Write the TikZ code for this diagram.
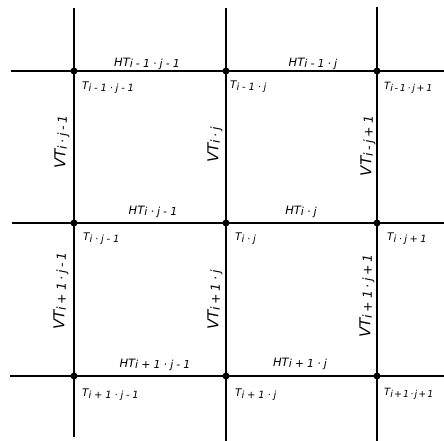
\documentclass[tikz,border=0pt]{standalone}
\usepackage{fontspec}
\newfontfamily\lbf{DejaVu Sans}
% #1 main size, #2 subscript size, #3 letter spacing of subscript, #4 main text, #5 subscript text
\newcommand\lb[5]{{\lbf\itshape\fontsize{#1}{#1}\selectfont #4\raisebox{-1.6pt}{\fontsize{#2}{#2}\selectfont\addfontfeatures{LetterSpace=#3}#5}}}
\begin{document}
\begin{tikzpicture}[x=1pt,y=-1pt,
  gridline/.style={line width=1.6pt, line cap=butt},
  dot/.style={circle, fill=black, inner sep=0pt, minimum size=7pt},
  hl/.style={inner sep=0pt, anchor=center},
  tl/.style={inner sep=0pt, anchor=west},
  vl/.style={inner sep=0pt, anchor=center, rotate=90}]
\useasboundingbox (0,0) rectangle (444,441);
% grid line ends
\coordinate (t1) at (74,8);  \coordinate (b1) at (74,437);
\coordinate (t2) at (226,8); \coordinate (b2) at (226,441);
\coordinate (t3) at (377,7); \coordinate (b3) at (377,441);
\coordinate (l1) at (11,71);  \coordinate (r1) at (444,71);
\coordinate (l2) at (12,223); \coordinate (r2) at (444,223);
\coordinate (l3) at (10,376); \coordinate (r3) at (444,376);
\draw[gridline] (t1) -- (b1);
\draw[gridline] (t2) -- (b2);
\draw[gridline] (t3) -- (b3);
\draw[gridline] (l1) -- (r1);
\draw[gridline] (l2) -- (r2);
\draw[gridline] (l3) -- (r3);
% nodes
\node[dot] (n11) at (74,71) {};
\node[dot] (n12) at (226,71) {};
\node[dot] (n13) at (377,71) {};
\node[dot] (n21) at (74,223) {};
\node[dot] (n22) at (226,223) {};
\node[dot] (n23) at (377,223) {};
\node[dot] (n31) at (74,376) {};
\node[dot] (n32) at (226,376) {};
\node[dot] (n33) at (377,376) {};
% horizontal labels
\node[hl] (h11) at (147,64) {\lb{11.5pt}{11pt}{28}{HT}{i-1·j-1}};
\node[hl] (h12) at (313,64) {\lb{11.5pt}{11pt}{28}{HT}{i-1·j}};
\node[hl] (h21) at (153,212) {\lb{11.5pt}{11pt}{28}{HT}{i·j-1}};
\node[hl] (h22) at (301,212) {\lb{11.5pt}{11pt}{28}{HT}{i·j}};
\node[hl] (h31) at (155,365) {\lb{11.5pt}{11pt}{28}{HT}{i+1·j-1}};
\node[hl] (h32) at (300,364) {\lb{11.5pt}{11pt}{28}{HT}{i+1·j}};
% node temperature labels
\node[tl] (T11) at (82,88) {\lb{10.5pt}{10pt}{28}{T}{i-1·j-1}};
\node[tl] (T12) at (230,87) {\lb{10.5pt}{10pt}{28}{T}{i-1·j}};
\node[tl] (T13) at (384,88) {\lb{10pt}{9.5pt}{18}{T}{i-1·j+1}};
\node[tl] (T21) at (83,239) {\lb{10.5pt}{10pt}{28}{T}{i·j-1}};
\node[tl] (T22) at (235,239) {\lb{10.5pt}{10pt}{28}{T}{i·j}};
\node[tl] (T23) at (387,239) {\lb{10.5pt}{10pt}{24}{T}{i·j+1}};
\node[tl] (T31) at (82,395) {\lb{10.5pt}{10pt}{28}{T}{i+1·j-1}};
\node[tl] (T32) at (235,395) {\lb{10.5pt}{10pt}{28}{T}{i+1·j}};
\node[tl] (T33) at (384,394) {\lb{10pt}{9.5pt}{12}{T}{i+1·j+1}};
% vertical labels
\node[vl] (v11) at (62,142) {\lb{15pt}{12.5pt}{22}{VT}{i·j-1}};
\node[vl] (v12) at (215,145) {\lb{15pt}{12.5pt}{22}{VT}{i·j}};
\node[vl] (v13) at (368,146) {\lb{15pt}{12.5pt}{22}{VT}{i-j+1}};
\node[vl] (v21) at (61,291) {\lb{15pt}{12.5pt}{22}{VT}{i+1·j-1}};
\node[vl] (v22) at (215,300) {\lb{15pt}{12.5pt}{22}{VT}{i+1·j}};
\node[vl] (v23) at (367,296) {\lb{15pt}{12.5pt}{22}{VT}{i+1·j+1}};
\end{tikzpicture}
\end{document}
